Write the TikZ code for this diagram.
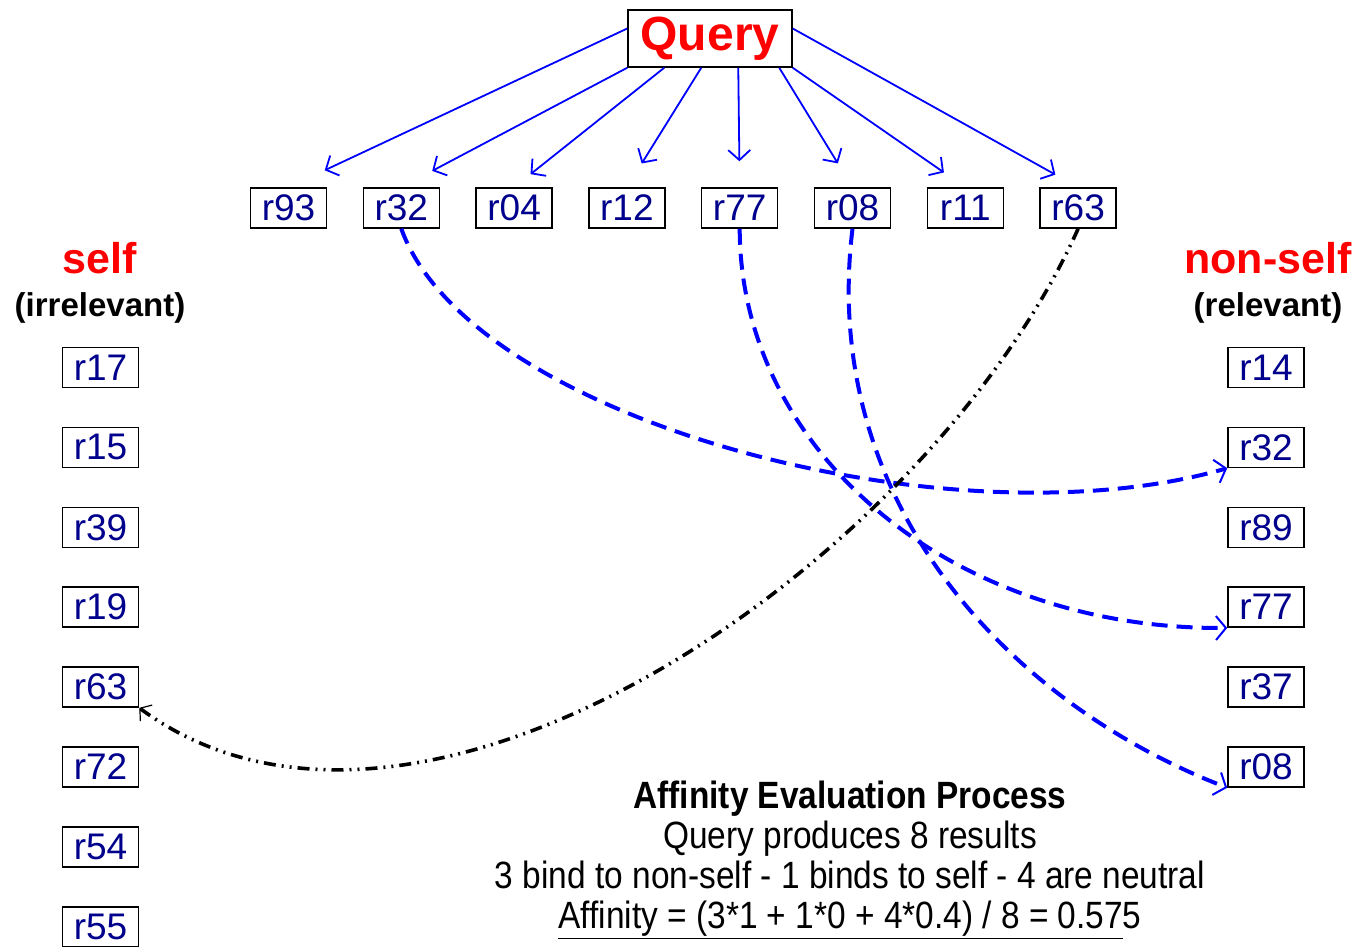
\documentclass[tikz,border=0pt]{standalone}
\usepackage{fontspec}
\setmainfont{Liberation Sans}
\newfontfamily\narrowsans[FakeStretch=0.88]{Liberation Sans}
\usetikzlibrary{arrows.meta,positioning}
\definecolor{resblue}{RGB}{0,0,140}
\definecolor{linkblue}{RGB}{0,0,255}

\begin{document}
\begin{tikzpicture}[x=1pt,y=-1pt,
  res/.style={draw,line width=1.5pt,minimum width=76pt,minimum height=40pt,inner sep=0pt,text=resblue,font=\fontsize{37}{40}\selectfont},
  head/.style={text=red,font=\bfseries\fontsize{43}{46}\selectfont},
  sub/.style={font=\bfseries\fontsize{33}{36}\selectfont},
  qarrow/.style={-{Straight Barb[length=10pt,width=22pt]},line width=1.8pt,linkblue},
  bind/.style={-{Straight Barb[length=10pt,width=24pt,line width=2pt]},line width=4pt,linkblue,dash pattern=on 16pt off 9pt},
  selfbind/.style={-{Straight Barb[length=8pt,width=20pt,line width=1.2pt]},line width=3.6pt,dash pattern=on 12pt off 6pt on 2pt off 6pt on 2pt off 6pt},
  node distance=38.4pt and 35.3pt]
\useasboundingbox (0,0) rectangle (1366,946);

% query and its 8 results
\node[draw,line width=1.5pt,minimum width=164pt,minimum height=57pt,inner sep=0pt,text=red,font=\bfseries\fontsize{48}{50}\selectfont] (query) at (710,38.5) {Query};
\node[res] (q93) at (288.5,208) {r93};
\node[res,right=of q93] (q32) {r32};
\node[res,right=of q32] (q04) {r04};
\node[res,right=of q04] (q12) {r12};
\node[res,right=of q12] (q77) {r77};
\node[res,right=of q77] (q08) {r08};
\node[res,right=of q08] (q11) {r11};
\node[res,right=of q11] (q63) {r63};

% self column
\node[head] (selflbl) at (100,258) {self};
\node[sub] (irrel) at (100,308) {(irrelevant)};
\node[res] (s17) at (100.5,367.5) {r17};
\node[res,below=of s17] (s15) {r15};
\node[res,below=of s15] (s39) {r39};
\node[res,below=of s39] (s19) {r19};
\node[res,below=of s19] (s63) {r63};
\node[res,below=of s63] (s72) {r72};
\node[res,below=of s72] (s54) {r54};
\node[res,below=of s54] (s55) {r55};

% non-self column
\node[head] (nonselflbl) at (1268,258) {non-self};
\node[sub] (rel) at (1268,308) {(relevant)};
\node[res] (n14) at (1266,367.5) {r14};
\node[res,below=of n14] (n32) {r32};
\node[res,below=of n32] (n89) {r89};
\node[res,below=of n89] (n77) {r77};
\node[res,below=of n77] (n37) {r37};
\node[res,below=of n37] (n08) {r08};

\node[align=center,font=\narrowsans\fontsize{38}{40}\selectfont] (summary) at (850,860)
  {\textbf{Affinity Evaluation Process}\\Query produces 8 results\\3 bind to non-self - 1 binds to self - 4 are neutral\\\underline{Affinity = (3*1 + 1*0 + 4*0.4) / 8 = 0.57}5};

% query -> results
\draw[qarrow,shorten >=40pt] ([yshift=10pt]query.west) -- (q93.north);
\draw[qarrow,shorten >=35pt] (query.south west) -- (q32.north);
\draw[qarrow,shorten >=21pt] ([xshift=37pt]query.south west) -- (q04.north);
\draw[qarrow,shorten >=28pt] ([xshift=74pt]query.south west) -- (q12.north);
\draw[qarrow,shorten >=26pt] ([xshift=111pt]query.south west) -- (q77.north);
\draw[qarrow,shorten >=28pt] ([xshift=152pt]query.south west) -- (q08.north);
\draw[qarrow,shorten >=26pt] (query.south east) -- (q11.north);
\draw[qarrow,shorten >=26pt] ([yshift=10pt]query.east) -- (q63.north);

% binding
\draw[bind] (q32.south) .. controls (470,420) and (950,548) .. (n32.south west);
\draw[bind] (q77.south) .. controls (740,450) and (950,630) .. (n77.south west);
\draw[bind] (q08.south) .. controls (820,495) and (1000,700) .. (n08.south west);
\draw[selfbind] (q63.south) .. controls (930,560) and (420,915) .. (s63.south east);
\end{tikzpicture}
\end{document}
